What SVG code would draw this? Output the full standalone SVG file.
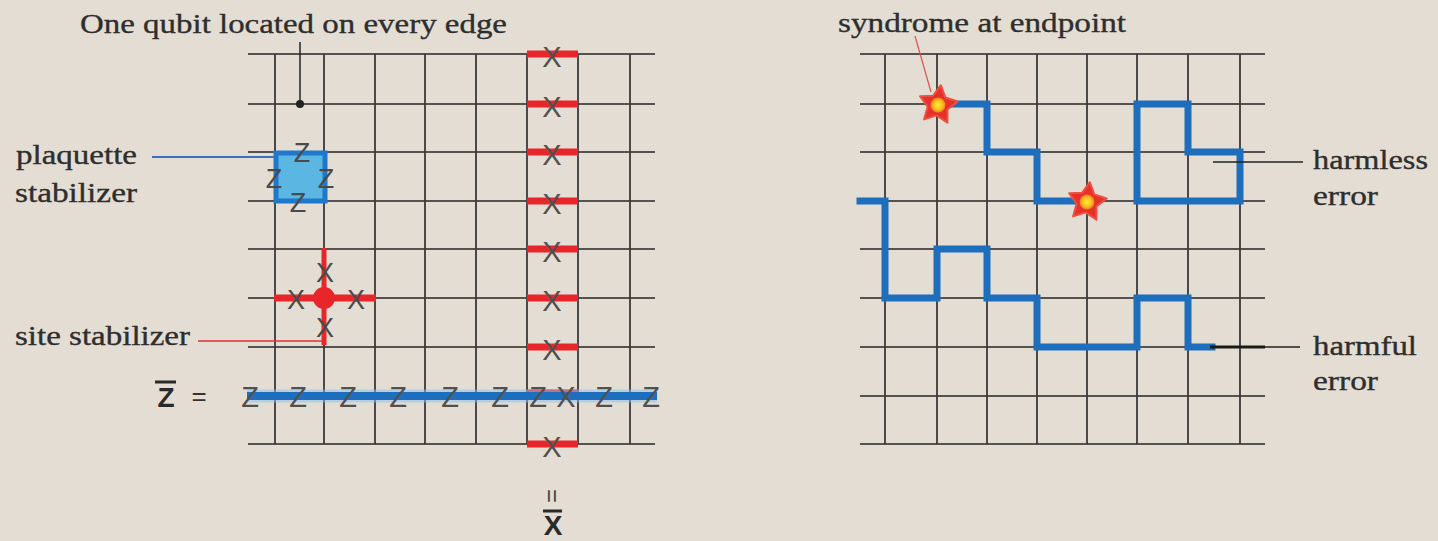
<svg xmlns="http://www.w3.org/2000/svg" xmlns:xlink="http://www.w3.org/1999/xlink" width="1438" height="541" viewBox="0 0 1438 541">
<style>
.bg{fill:#e3ddd3}
.h{stroke:#262626;stroke-width:1.6;fill:none}
.v{stroke:#3a3a3a;stroke-width:1.8;fill:none}
.lbl{font-family:"Liberation Serif","Times New Roman",serif;font-size:28px;fill:#2e2e2e;stroke:#2e2e2e;stroke-width:0.35}
.op{font-family:"Liberation Sans",Arial,sans-serif;font-size:29px;fill:#505050;text-anchor:middle}
.op2{font-family:"Liberation Sans",Arial,sans-serif;font-size:27px;fill:#4a4a4a;text-anchor:middle}
.redbar{stroke:#e8262a;stroke-width:7;fill:none}
.blue{stroke:#1e6ebe;stroke-width:7;fill:none;stroke-linejoin:miter;stroke-linecap:square}
.halo{stroke:#8cc0ea;stroke-width:13;fill:none;opacity:.5}
.big{font-family:"Liberation Sans",Arial,sans-serif;font-size:28px;font-weight:bold;fill:#2a2a2a;text-anchor:middle}
</style>
<defs>
<radialGradient id="core"><stop offset="0" stop-color="#ffe83a"/><stop offset="0.6" stop-color="#f9c21e"/><stop offset="1" stop-color="#f07a20"/></radialGradient>
<g id="star">
<polygon points="0,-20 6.2,-8.5 19,-6.2 10,3.2 11.8,16.2 0,10.5 -11.8,16.2 -10,3.2 -19,-6.2 -6.2,-8.5" fill="#e8302a" stroke="#ee5040" stroke-width="2" stroke-linejoin="round"/>
<circle r="7.5" fill="url(#core)"/>
</g>
</defs>
<rect class="bg" x="0" y="0" width="1438" height="541"/>

<g id="left-grid">
<path class="h" d="M248,54H655M248,104H655M248,152H655M248,201H655M248,249H655M248,298H655M248,347H655M248,396H655M248,444H655"/>
<path class="v" d="M275,54V444M324,54V444M375,54V444M425,54V444M476,54V444M527,54V444M578,54V444M630,54V444"/>
</g>

<g id="right-grid">
<path class="h" d="M860,54H1265M860,104H1265M860,152H1265M860,201H1265M860,249H1265M860,298H1265M860,347H1265M860,396H1265M860,444H1265"/>
<path class="v" d="M885,54V444M937,54V444M987,54V444M1037,54V444M1087,54V444M1137,54V444M1188,54V444M1240,54V444"/>
</g>

<g id="title-left">
<text class="lbl" x="80" y="33" textLength="427" lengthAdjust="spacingAndGlyphs">One qubit located on every edge</text>
</g>

<g id="plaquette">
<rect x="276" y="153" width="49" height="48" fill="#5cb6e2" stroke="#1e78cc" stroke-width="5"/>
<text class="op2" x="302" y="162">Z</text>
<text class="op2" x="298" y="212">Z</text>
<text class="op2" x="274" y="188">Z</text>
<text class="op2" x="326" y="188">Z</text>
</g>
<g id="plaquette-label">
<text class="lbl" x="16" y="164" textLength="121" lengthAdjust="spacingAndGlyphs">plaquette</text>
<text class="lbl" x="15" y="202" textLength="122" lengthAdjust="spacingAndGlyphs">stabilizer</text>
</g>

<g id="site">
<line x1="324" y1="248" x2="324" y2="345" stroke="#e8262a" stroke-width="5"/>
<line x1="274" y1="298" x2="376" y2="298" class="redbar"/>
<circle cx="324" cy="298" r="11" fill="#e8262a"/>
<text class="op2" x="325" y="282">X</text>
<text class="op2" x="296" y="309">X</text>
<text class="op2" x="356" y="309">X</text>
<text class="op2" x="325" y="337">X</text>
</g>
<g id="site-label">
<text class="lbl" x="15" y="345" textLength="175" lengthAdjust="spacingAndGlyphs">site stabilizer</text>
</g>

<g id="x-column">
<path class="redbar" d="M527,54H578M527,104H578M527,152H578M527,201H578M527,249H578M527,298H578M527,347H578M527,393H578M527,444H578"/>
<text class="op" x="552" y="67">X</text>
<text class="op" x="552" y="117">X</text>
<text class="op" x="552" y="165">X</text>
<text class="op" x="552" y="214">X</text>
<text class="op" x="552" y="262">X</text>
<text class="op" x="552" y="311">X</text>
<text class="op" x="552" y="360">X</text>
<text class="op" x="552" y="457">X</text>
</g>

<g id="z-row">
<line class="halo" x1="247" y1="396" x2="657" y2="396"/>
<line x1="247" y1="396" x2="657" y2="396" stroke="#1e6ebe" stroke-width="8"/>
<text class="op" x="250" y="407">Z</text>
<text class="op" x="298" y="407">Z</text>
<text class="op" x="348" y="407">Z</text>
<text class="op" x="398" y="407">Z</text>
<text class="op" x="450" y="407">Z</text>
<text class="op" x="500" y="407">Z</text>
<text class="op" x="538" y="407">Z</text>
<text class="op" x="566" y="407">X</text>
<text class="op" x="604" y="407">Z</text>
<text class="op" x="651" y="407">Z</text>
</g>

<g id="z-bar-label">
<line x1="155" y1="382" x2="176" y2="382" stroke="#2a2a2a" stroke-width="3"/>
<text class="big" x="166" y="407">Z</text>
<text x="199" y="405" font-family="Liberation Sans,Arial,sans-serif" font-size="26" fill="#333" text-anchor="middle">=</text>
</g>

<g id="x-bar-label">
<text x="552" y="504" font-family="Liberation Sans,Arial,sans-serif" font-size="24" fill="#444" text-anchor="middle" transform="rotate(90 552 496)">=</text>
<line x1="543" y1="511" x2="562" y2="511" stroke="#2a2a2a" stroke-width="3"/>
<text class="big" x="553" y="535" font-size="25">X</text>
</g>

<g id="title-right">
<text class="lbl" x="838" y="32" textLength="288" lengthAdjust="spacingAndGlyphs">syndrome at endpoint</text>
</g>

<g id="error-paths">
<path class="blue" d="M937,104H987V152H1037V201H1087"/>
<path class="blue" d="M1137,104H1188V152H1240V201H1137Z"/>
<path class="blue" stroke-linecap="butt" d="M860,201H885V298H937V249H987V298H1037V347H1137V298H1188V347H1212"/>
</g>

<g id="stars">
<use xlink:href="#star" href="#star" transform="translate(938,105) rotate(8)"/>
<use xlink:href="#star" href="#star" transform="translate(1087,202) rotate(8)"/>
</g>

<g id="error-labels">
<text class="lbl" x="1313" y="169" textLength="115" lengthAdjust="spacingAndGlyphs">harmless</text>
<text class="lbl" x="1313" y="205" textLength="65" lengthAdjust="spacingAndGlyphs">error</text>
<text class="lbl" x="1313" y="355" textLength="104" lengthAdjust="spacingAndGlyphs">harmful</text>
<text class="lbl" x="1313" y="390" textLength="65" lengthAdjust="spacingAndGlyphs">error</text>
</g>

<g id="connectors">
<line x1="300" y1="42" x2="300" y2="104" stroke="#222" stroke-width="1.5"/>
<circle cx="300" cy="104" r="4" fill="#222"/>
<line x1="152" y1="157" x2="276" y2="157" stroke="#3a70c0" stroke-width="2"/>
<line x1="198" y1="341" x2="325" y2="341" stroke="#e03030" stroke-width="1.5"/>
<line x1="915" y1="36" x2="931" y2="92" stroke="#e05050" stroke-width="1.2"/>
<line x1="1213" y1="162" x2="1303" y2="162" stroke="#222" stroke-width="1.6"/>
<line x1="1210" y1="347" x2="1265" y2="347" stroke="#1a1a1a" stroke-width="3"/>
<line x1="1265" y1="347" x2="1300" y2="347" stroke="#222" stroke-width="1.6"/>
</g>
</svg>
